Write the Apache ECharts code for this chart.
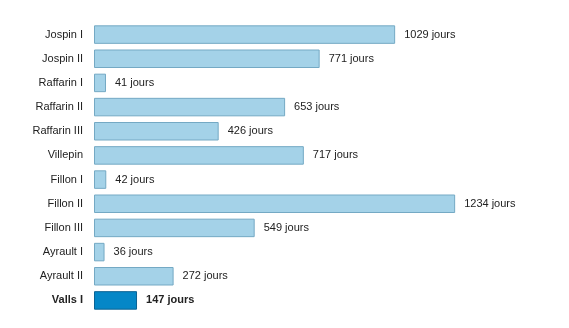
<!DOCTYPE html>
<html><head><meta charset="utf-8">
<script src="https://cdn.jsdelivr.net/npm/echarts@6/dist/echarts.min.js"></script>
<style>html,body{margin:0;padding:0;background:#fff}#c{width:569px;height:328px}</style>
</head><body><div id="c"></div>
<script>
var categories = ["Jospin I","Jospin II","Raffarin I","Raffarin II","Raffarin III","Villepin","Fillon I","Fillon II","Fillon III","Ayrault I","Ayrault II","Valls I"];
var values = [1029,771,41,653,426,717,42,1234,549,36,272,147];
var highlight = "Valls I";

var chart = echarts.init(document.getElementById('c'), null, {renderer:'canvas'});
var data = values.map(function(v,i){
  var hi = categories[i] === highlight;
  return {
    value: v,
    itemStyle: hi ? {color:'#0587c7', borderColor:'#0b6394', borderWidth:1} : {color:'#a4d2e8', borderColor:'#74a9c4', borderWidth:1},
    label: hi ? {fontWeight:'bold'} : {}
  };
});
chart.setOption({
  animation:false,
  grid:{left:94, top:22.5, width:439, height:290, containLabel:false},
  xAxis:{type:'value', min:0, max:1500, show:false},
  yAxis:{type:'category', inverse:true, data:categories,
    axisLine:{show:false}, axisTick:{show:false},
    axisLabel:{margin:11, color:'#222', fontFamily:'Liberation Sans, Arial, sans-serif', fontSize:11,
      formatter:function(v){ return v===highlight ? '{b|'+v+'}' : v; },
      rich:{b:{fontWeight:'bold', color:'#222', fontFamily:'Liberation Sans, Arial, sans-serif', fontSize:11}}}},
  series:[{type:'bar', data:data, barWidth:18.5,
    label:{show:true, position:'right', distance:9, color:'#222', fontFamily:'Liberation Sans, Arial, sans-serif', fontSize:11,
      formatter:function(p){return p.value+' jours';}}}]
});
</script></body></html>
